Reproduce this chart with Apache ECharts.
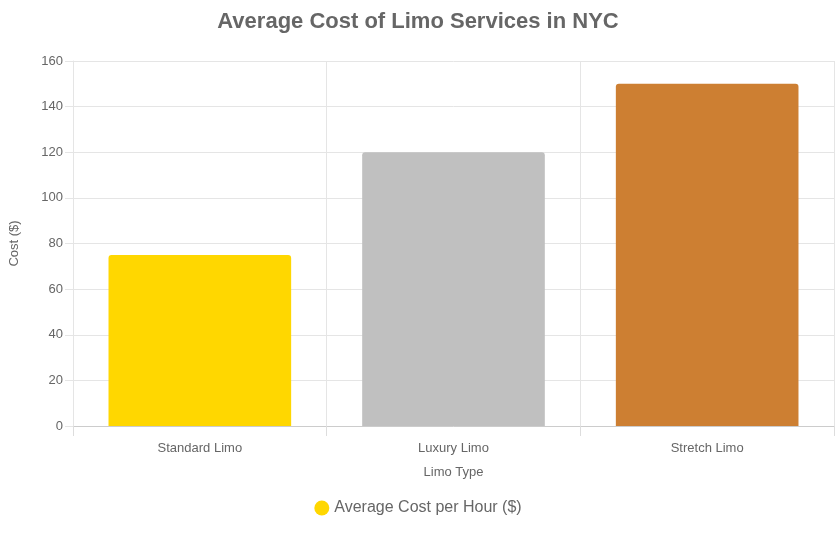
<!DOCTYPE html>
<html>
<head>
<meta charset="utf-8">
<script src="https://cdn.jsdelivr.net/npm/echarts@6/dist/echarts.min.js"></script>
<style>
	html, body { margin: 0; padding: 0; background: #fff; }
	#chart { width: 836px; height: 533px; }
</style>
</head>
<body>
<div id="chart"></div>
<script>
const categories = ['Standard Limo', 'Luxury Limo', 'Stretch Limo']
const costs = [75, 120, 150]
const barColors = ['#FFD700', '#C0C0C0', '#CD7F32']
const seriesName = 'Average Cost per Hour ($)'

const chart = echarts.init(document.getElementById('chart'))

const option = {
	animation: false,
	textStyle: { fontFamily: 'Arial, Liberation Sans, sans-serif' },
	title: {
		text: 'Average Cost of Limo Services in NYC',
		left: 'center',
		top: 6,
		textStyle: { fontSize: 22, fontWeight: 'bold', color: '#666' },
	},
	legend: {
		bottom: 12,
		icon: 'circle',
		itemWidth: 15,
		itemHeight: 15,
		textStyle: { fontSize: 16, color: '#666' },
		data: [{ name: seriesName, itemStyle: { color: '#FFD700' } }],
	},
	grid: { left: 70, right: 2, top: 61, bottom: 107 },
	xAxis: {
		type: 'category',
		data: categories,
		name: 'Limo Type',
		nameLocation: 'middle',
		nameGap: 40,
		nameTextStyle: { fontSize: 13, color: '#666' },
		axisLine: { lineStyle: { color: '#ccc' } },
		axisTick: { show: true, length: 10, lineStyle: { color: '#ddd' } },
		axisLabel: { fontSize: 13, color: '#666', margin: 16 },
		splitLine: { show: true, lineStyle: { color: '#e5e5e5' } },
	},
	yAxis: {
		type: 'value',
		min: 0,
		max: 160,
		interval: 20,
		name: 'Cost ($)',
		nameLocation: 'middle',
		nameGap: 52,
		nameTextStyle: { fontSize: 13, color: '#666' },
		axisLine: { show: true, lineStyle: { color: '#e5e5e5' } },
		axisTick: { show: true, length: 8, lineStyle: { color: '#e5e5e5' } },
		axisLabel: { fontSize: 13, color: '#666', margin: 10 },
		splitLine: { lineStyle: { color: '#e5e5e5' } },
	},
	series: [
		{
			name: seriesName,
			type: 'bar',
			barCategoryGap: '28%',
			data: costs.map((v, i) => ({
				value: v,
				itemStyle: { color: barColors[i], borderRadius: [3, 3, 0, 0] },
			})),
		},
	],
}

chart.setOption(option)
</script>
</body>
</html>
